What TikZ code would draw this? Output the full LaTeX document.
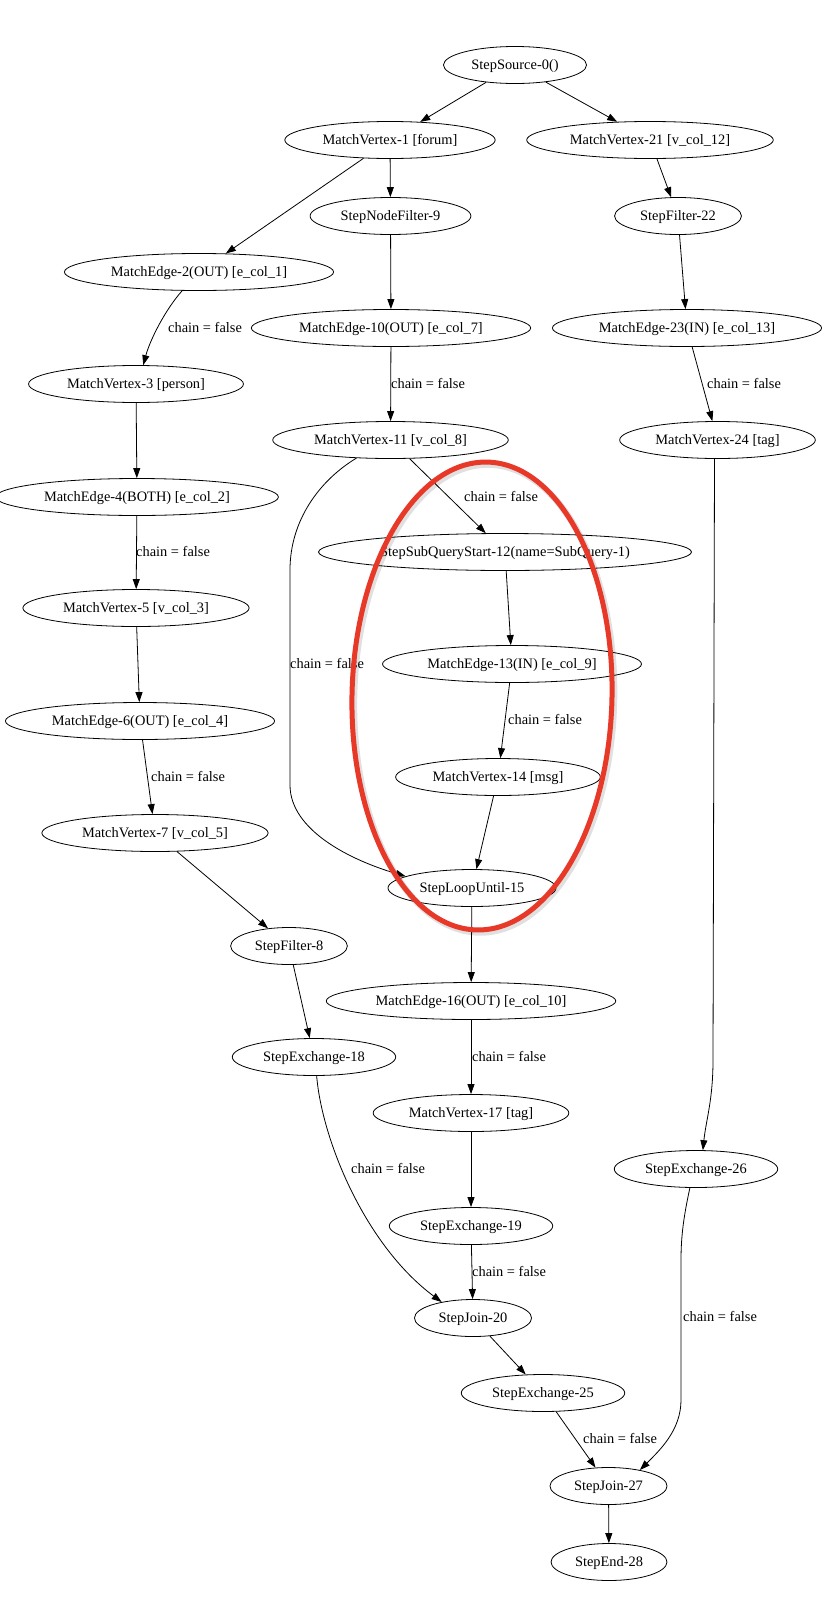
\documentclass[tikz,border=0pt]{standalone}
\usepackage{fontspec}
\setmainfont{Liberation Serif}
\usetikzlibrary{arrows.meta,shapes.geometric}
\definecolor{ringred}{RGB}{232,56,40}
\begin{document}
\begin{tikzpicture}[x=1pt,y=-1pt,
  gnode/.style={ellipse,draw,line width=0.8pt,inner xsep=7pt,inner ysep=2pt,minimum height=37pt,text height=10.5pt,text depth=2pt,font=\fontsize{14.4}{17}\selectfont},
  edge/.style={line width=0.8pt,-{Triangle[length=10pt,width=7pt]}},
  elab/.style={anchor=west,inner sep=0pt,text height=10.5pt,text depth=2pt,font=\fontsize{14.4}{17}\selectfont},
  ring/.style={line width=5pt,draw=ringred},
  ringshadow/.style={line width=6.5pt,draw=black,opacity=0.12}]
\fill[white] (0,0) rectangle (828,1606);
\useasboundingbox (0,0) rectangle (828,1606);

% nodes
\node[gnode] (src) at (515,65) {StepSource-0()};
\node[gnode] (mv1) at (390,140) {MatchVertex-1 [forum]};
\node[gnode] (mv21) at (650,140) {MatchVertex-21 [v\_col\_12]};
\node[gnode] (nf9) at (390.5,216) {StepNodeFilter-9};
\node[gnode] (f22) at (678,216) {StepFilter-22};
\node[gnode] (me2) at (199,272) {MatchEdge-2(OUT) [e\_col\_1]};
\node[gnode] (me10) at (391,328) {MatchEdge-10(OUT) [e\_col\_7]};
\node[gnode] (me23) at (687,328) {MatchEdge-23(IN) [e\_col\_13]};
\node[gnode] (mv3) at (136,384) {MatchVertex-3 [person]};
\node[gnode] (mv11) at (390.5,440) {MatchVertex-11 [v\_col\_8]};
\node[gnode] (mv24) at (717.5,440) {MatchVertex-24 [tag]};
\node[gnode] (me4) at (137,497) {MatchEdge-4(BOTH) [e\_col\_2]};
\node[gnode] (sq12) at (505,552) {StepSubQueryStart-12(name=SubQuery-1)};
\node[gnode] (mv5) at (136,608) {MatchVertex-5 [v\_col\_3]};
\node[gnode] (me13) at (512,664) {MatchEdge-13(IN) [e\_col\_9]};
\node[gnode] (me6) at (140,721) {MatchEdge-6(OUT) [e\_col\_4]};
\node[gnode] (mv14) at (498,777) {MatchVertex-14 [msg]};
\node[gnode] (mv7) at (155,833) {MatchVertex-7 [v\_col\_5]};
\node[gnode] (loop15) at (472,888) {StepLoopUntil-15};
\node[gnode] (f8) at (289,946) {StepFilter-8};
\node[gnode] (me16) at (471,1001) {MatchEdge-16(OUT) [e\_col\_10]};
\node[gnode] (ex18) at (314,1057) {StepExchange-18};
\node[gnode] (mv17) at (471,1113) {MatchVertex-17 [tag]};
\node[gnode] (ex26) at (696,1169) {StepExchange-26};
\node[gnode] (ex19) at (471,1226) {StepExchange-19};
\node[gnode] (join20) at (473,1318) {StepJoin-20};
\node[gnode] (ex25) at (543,1393) {StepExchange-25};
\node[gnode] (join27) at (608.5,1486) {StepJoin-27};
\node[gnode] (end28) at (609,1562) {StepEnd-28};

% edges
\draw[edge] (src) -- (mv1);
\draw[edge] (src) -- (mv21);
\draw[edge] (mv1) -- (nf9);
\draw[edge] (mv1) -- (me2);
\draw[edge] (mv21) -- (f22);
\draw[edge] (f22) -- (me23);
\draw[edge] (nf9) -- (me10);
\draw[edge] (me2.228) .. controls (165,310) and (150,340) .. (mv3.69);
\draw[edge] (me10) -- (mv11);
\draw[edge] (me23) -- (mv24);
\draw[edge] (mv3) -- (me4);
\draw[edge] (mv11) -- (sq12);
\draw[edge] (mv11.208.5) .. controls (320,480) and (290,520) .. (290,570) -- (290,785) .. controls (290,830) and (350,860) .. (loop15.170);
\draw[edge] (me4) -- (mv5);
\draw[edge] (sq12) -- (me13);
\draw[edge] (me13) -- (mv14);
\draw[edge] (mv5) -- (me6);
\draw[edge] (mv14) -- (loop15);
\draw[edge] (me6) -- (mv7);
\draw[edge] (mv7) -- (f8);
\draw[edge] (loop15) -- (me16);
\draw[edge] (f8) -- (ex18);
\draw[edge] (me16) -- (mv17);
\draw[edge] ([xshift=-3pt]mv24.south) -- (713,1060) .. controls (713,1100) and (706,1120) .. (ex26.70);
\draw[edge] (mv17) -- (ex19);
\draw[edge] (ex18.278) .. controls (322,1140) and (365,1245) .. (join20.153);
\draw[edge] (ex19) -- (join20);
\draw[edge] (join20) -- (ex25);
\draw[edge] (ex25) -- (join27);
\draw[edge] (ex26.252) .. controls (684,1215) and (681,1235) .. (681,1260) -- (681,1400) .. controls (681,1430) and (660,1450) .. (join27.27);
\draw[edge] (join27) -- (end28);

% edge labels
\node[elab] (l1) at (168,328) {chain = false};
\node[elab] (l2) at (391,384) {chain = false};
\node[elab] (l3) at (707,384) {chain = false};
\node[elab] (l4) at (464,497) {chain = false};
\node[elab] (l5) at (290,664) {chain = false};
\node[elab] (l6) at (136,552) {chain = false};
\node[elab] (l7) at (508,720) {chain = false};
\node[elab] (l8) at (151,777) {chain = false};
\node[elab] (l9) at (472,1057) {chain = false};
\node[elab] (l10) at (351,1169) {chain = false};
\node[elab] (l11) at (472,1272) {chain = false};
\node[elab] (l12) at (583,1439) {chain = false};
\node[elab] (l13) at (683,1317) {chain = false};

% red highlight ring
\draw[ringshadow, rotate around={-1.3:(484,698.5)}] (484,698.5) ellipse [x radius=130, y radius=234];
\draw[ring, rotate around={-1.3:(482,696)}] (482,696) ellipse [x radius=130, y radius=234];
\end{tikzpicture}
\end{document}
